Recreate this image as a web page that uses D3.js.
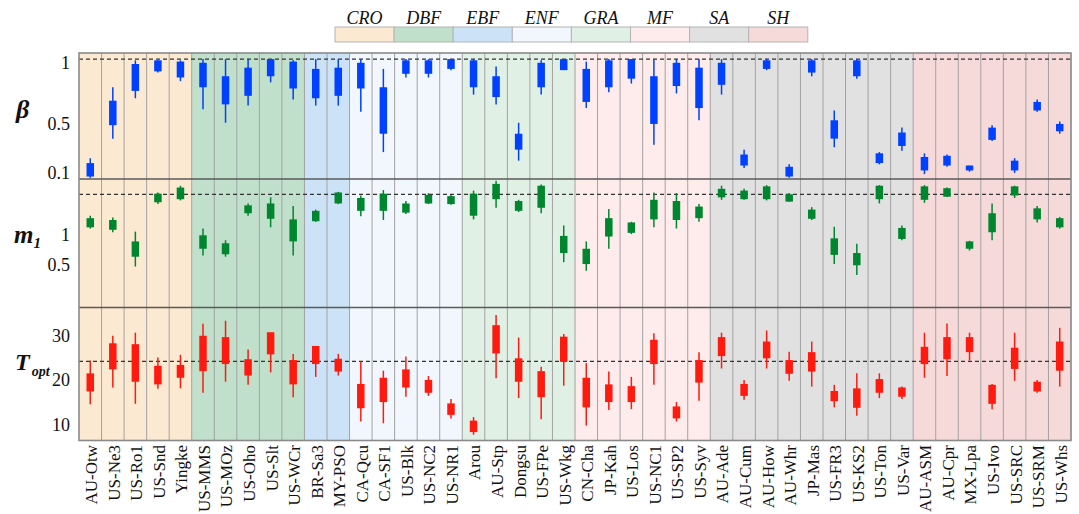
<!DOCTYPE html>
<html>
<head>
<meta charset="utf-8">
<script src="https://cdn.jsdelivr.net/npm/d3@7"></script>
<style>
  body { margin: 0; background: #fff; }
  svg { display: block; font-family: "Liberation Serif", "Times New Roman", serif; }
</style>
</head>
<body>
<svg id="chart" width="1079" height="514"></svg>
<script>
// Flux sites, grouped by plant functional type (PFT)
const stations = [
  "AU-Otw","US-Ne3","US-Ro1","US-Snd","Yingke",
  "US-MMS","US-MOz","US-Oho","US-Slt","US-WCr",
  "BR-Sa3","MY-PSO",
  "CA-Qcu","CA-SF1","US-Blk","US-NC2","US-NR1",
  "Arou","AU-Stp","Dongsu","US-FPe","US-Wkg",
  "CN-Cha","JP-Kah","US-Los","US-NC1","US-SP2","US-Syv",
  "AU-Ade","AU-Cum","AU-How","AU-Whr","JP-Mas","US-FR3","US-KS2","US-Ton","US-Var",
  "AU-ASM","AU-Cpr","MX-Lpa","US-Ivo","US-SRC","US-SRM","US-Whs"
];
const pftNames  = ["CRO","DBF","EBF","ENF","GRA","MF","SA","SH"];
const pftCounts = [5, 5, 2, 5, 5, 6, 9, 7];

// Per-site distribution: [min, q1, q3, max]
const betaStats = [
  [0.03,0.04,0.15,0.19],[0.35,0.46,0.66,0.77],[0.68,0.74,0.96,0.99],[0.89,0.90,0.99,0.99],[0.82,0.85,0.98,0.99],
  [0.59,0.77,0.97,1.00],[0.48,0.63,0.86,1.00],[0.62,0.70,0.93,1.00],[0.81,0.86,1.00,1.00],[0.67,0.76,0.98,0.99],
  [0.62,0.68,0.92,1.00],[0.62,0.70,0.93,1.00],
  [0.57,0.76,0.97,1.00],[0.24,0.39,0.77,0.92],[0.85,0.88,0.99,1.00],[0.85,0.88,0.99,1.00],[0.91,0.92,1.00,1.00],
  [0.71,0.77,0.99,1.00],[0.63,0.69,0.86,0.94],[0.17,0.26,0.39,0.48],[0.71,0.77,0.97,0.99],[0.91,0.91,1.00,1.00],
  [0.60,0.65,0.92,0.98],[0.73,0.77,0.99,1.00],[0.80,0.84,1.00,1.00],[0.30,0.47,0.86,1.00],[0.72,0.78,0.97,1.00],[0.50,0.60,0.93,1.00],
  [0.71,0.79,0.97,1.00],[0.11,0.13,0.22,0.26],[0.91,0.92,0.99,1.00],[0.03,0.04,0.12,0.14],[0.86,0.89,0.99,1.00],
  [0.28,0.35,0.50,0.58],[0.84,0.86,0.99,1.00],[0.14,0.15,0.23,0.24],[0.25,0.29,0.40,0.44],
  [0.06,0.09,0.20,0.23],[0.12,0.13,0.21,0.22],[0.08,0.09,0.13,0.13],[0.33,0.34,0.44,0.46],[0.07,0.09,0.17,0.19],
  [0.57,0.58,0.65,0.67],[0.39,0.41,0.47,0.49]
];
const m1Stats = [
  [1.04,1.06,1.21,1.25],[0.98,1.02,1.18,1.22],[0.42,0.58,0.83,0.99],[1.44,1.47,1.61,1.63],[1.50,1.52,1.71,1.74],
  [0.60,0.71,0.93,1.04],[0.58,0.62,0.80,0.85],[1.25,1.29,1.42,1.45],[1.06,1.20,1.45,1.55],[0.60,0.83,1.19,1.41],
  [1.15,1.16,1.33,1.35],[1.44,1.45,1.63,1.64],
  [1.24,1.33,1.54,1.58],[1.18,1.33,1.61,1.67],[1.28,1.30,1.45,1.49],[1.44,1.45,1.59,1.62],[1.43,1.44,1.57,1.59],
  [1.19,1.25,1.61,1.66],[1.38,1.52,1.77,1.82],[1.31,1.33,1.49,1.51],[1.29,1.38,1.74,1.76],[0.49,0.64,0.92,1.09],
  [0.35,0.46,0.71,0.83],[0.71,0.91,1.21,1.36],[0.95,0.97,1.14,1.15],[1.06,1.19,1.51,1.63],[1.04,1.18,1.49,1.62],[1.15,1.21,1.40,1.44],
  [1.51,1.55,1.69,1.74],[1.51,1.52,1.66,1.69],[1.50,1.52,1.73,1.75],[1.48,1.48,1.60,1.62],[1.18,1.20,1.35,1.39],
  [0.46,0.61,0.88,1.07],[0.28,0.44,0.64,0.79],[1.45,1.52,1.74,1.75],[0.85,0.87,1.05,1.09],
  [1.46,1.51,1.73,1.75],[1.56,1.56,1.70,1.71],[0.68,0.71,0.83,0.84],[0.85,0.98,1.29,1.45],[1.54,1.58,1.73,1.74],
  [1.14,1.19,1.37,1.41],[1.04,1.06,1.21,1.23]
];
const toptStats = [
  [13.8,16.7,20.8,23.7],[17.6,21.7,27.6,29.3],[13.9,18.9,27.4,30.0],[17.3,18.3,22.5,24.4],[17.4,19.8,22.7,25.0],
  [16.4,21.3,29.3,32.0],[18.9,22.9,29.0,32.7],[18.2,20.3,24.0,26.2],[21.0,25.1,30.1,30.1],[15.4,18.3,23.8,25.2],
  [20.0,22.9,27.0,27.0],[20.3,21.2,24.1,25.2],
  [9.9,12.9,18.4,23.4],[9.5,14.3,19.8,21.4],[15.5,17.6,21.7,24.6],[15.7,16.4,19.3,20.2],[10.6,11.4,14.0,15.0],
  [6.9,7.5,10.1,10.9],[19.7,25.3,31.7,34.0],[15.2,18.9,24.2,28.9],[10.4,15.4,21.3,22.3],[18.0,23.4,29.1,29.7],
  [9.0,13.1,19.8,23.1],[12.5,14.3,18.3,21.2],[12.7,14.3,17.9,20.0],[18.2,22.9,28.4,29.9],[9.9,10.6,13.3,14.3],[14.6,18.7,23.8,25.6],
  [21.9,24.7,29.0,30.0],[14.8,15.7,18.4,19.3],[21.9,24.2,28.0,30.5],[19.1,20.7,23.8,25.7],[17.8,21.2,25.6,28.0],
  [13.1,14.5,16.8,18.2],[11.2,13.0,17.4,20.8],[15.2,16.4,19.5,20.8],[15.0,15.5,17.6,17.8],
  [19.8,22.9,26.8,30.0],[20.2,24.0,29.0,32.1],[23.7,25.6,29.0,30.0],[12.7,13.9,18.2,18.4],[19.1,21.8,26.6,30.0],
  [16.4,16.7,18.9,19.3],[17.8,21.4,28.0,31.1]
];

const betaTicks = [0.1, 0.5, 1];
const m1Ticks   = [0.5, 1];
const toptTicks = [10, 20, 30];
const betaRef = 1, m1Ref = 1.6, toptRef = 23.5;

// ---- layout ----
const svg = d3.select("#chart");
const plotLeft = 79, plotRight = 1071;
const plotTop = 53, plotBottom = 440.5;
const pftOf = pftCounts.flatMap((n, i) => d3.range(n).map(() => pftNames[i]));

const x = d3.scaleBand().domain(stations).range([plotLeft, plotRight]).padding(0);
const pftColor = d3.scaleOrdinal().domain(pftNames)
  .range(["#fce9d1","#c0e0cb","#cce3f7","#f1f7fd","#e1f0e4","#fdeceb","#e1e1e1","#f6dada"]);

const panels = [
  { stats: betaStats, ticks: betaTicks, ref: betaRef, color: "#0040ff",
    y: d3.scaleLinear().domain([0.02, 1.05]).range([179, plotTop]) },
  { stats: m1Stats, ticks: m1Ticks, ref: m1Ref, color: "#00862f",
    y: d3.scaleLinear().domain([-0.25, 1.85]).range([307.5, 179]) },
  { stats: toptStats, ticks: toptTicks, ref: toptRef, color: "#ff1a10",
    y: d3.scaleLinear().domain([5.6, 35.7]).range([plotBottom, 307.5]) }
];

// PFT background columns
svg.append("g").selectAll("rect").data(stations).join("rect")
  .attr("x", d => x(d)).attr("y", plotTop)
  .attr("width", x.bandwidth() + 0.5).attr("height", plotBottom - plotTop)
  .attr("fill", (d, i) => pftColor(pftOf[i]));

// Column separators
svg.append("g").selectAll("line").data(stations.slice(1)).join("line")
  .attr("x1", d => x(d)).attr("x2", d => x(d))
  .attr("y1", plotTop).attr("y2", plotBottom)
  .attr("stroke", "#a2a2a2").attr("stroke-width", 1);

// Panels: reference line, whiskers, boxes, y axis
const boxW = 7.5;
panels.forEach(p => {
  const g = svg.append("g");
  g.append("line")
    .attr("x1", plotLeft).attr("x2", plotRight)
    .attr("y1", p.y(p.ref)).attr("y2", p.y(p.ref))
    .attr("stroke", "#333").attr("stroke-width", 1.2)
    .attr("stroke-dasharray", "4,3");

  const c = d => x(stations[d.i]) + x.bandwidth() / 2;
  const items = p.stats.map((s, i) => ({ i, s }));
  g.selectAll("line.wh").data(items).join("line").attr("class", "wh")
    .attr("x1", c).attr("x2", c)
    .attr("y1", d => p.y(d.s[3])).attr("y2", d => p.y(d.s[0]))
    .attr("stroke", p.color).attr("stroke-width", 1.5);
  g.selectAll("rect.bx").data(items).join("rect").attr("class", "bx")
    .attr("x", d => c(d) - boxW / 2).attr("width", boxW)
    .attr("y", d => p.y(d.s[2]))
    .attr("height", d => Math.max(1.5, p.y(d.s[1]) - p.y(d.s[2])))
    .attr("fill", p.color);

  const ax = g.append("g").attr("transform", `translate(${plotLeft},0)`)
    .call(d3.axisLeft(p.y).tickValues(p.ticks).tickSize(0).tickPadding(9)
      .tickFormat(d3.format("")));
  ax.select(".domain").remove();
  ax.attr("font-family", null);
  ax.selectAll("text").attr("font-size", 18).attr("fill", "#111")
    .attr("dy", "0.5em");
});

// Panel separators and frame
[179, 307.5].forEach(yy => {
  svg.append("line").attr("x1", plotLeft).attr("x2", plotRight).attr("y1", yy).attr("y2", yy)
    .attr("stroke", "#5a5a5a").attr("stroke-width", 1.3);
});
svg.append("rect").attr("x", plotLeft).attr("y", plotTop)
  .attr("width", plotRight - plotLeft).attr("height", plotBottom - plotTop)
  .attr("fill", "none").attr("stroke", "#8a8a8a").attr("stroke-width", 1.6);

// Axis titles
const titles = svg.append("g").attr("font-weight", "bold").attr("font-style", "italic").attr("fill", "#111");
titles.append("text").attr("x", 16).attr("y", 118).attr("font-size", 26).text("β");
const mt = titles.append("text").attr("x", 14).attr("y", 243).attr("font-size", 25);
mt.append("tspan").text("m");
mt.append("tspan").attr("font-size", 15).attr("dy", 5).text("1");
const tt = titles.append("text").attr("x", 15).attr("y", 370).attr("font-size", 24);
tt.append("tspan").text("T");
tt.append("tspan").attr("font-size", 14).attr("dy", 6).attr("dx", 2).text("opt");

// Site labels
svg.append("g").selectAll("text").data(stations).join("text")
  .attr("transform", d => `translate(${x(d) + x.bandwidth() / 2 + 1},445) rotate(-90)`)
  .attr("text-anchor", "end").attr("dy", "0.35em")
  .attr("font-size", 17).attr("fill", "#111")
  .text(d => d);

// Legend
const lgX = 335, lgW = 59.1, lgY = 27, lgH = 15;
const lg = svg.append("g");
lg.selectAll("rect").data(pftNames).join("rect")
  .attr("x", (d, i) => lgX + i * lgW).attr("y", lgY)
  .attr("width", lgW).attr("height", lgH)
  .attr("fill", d => pftColor(d)).attr("stroke", "#b4b4b4").attr("stroke-width", 1);
lg.selectAll("text").data(pftNames).join("text")
  .attr("x", (d, i) => lgX + i * lgW + lgW / 2).attr("y", 24)
  .attr("text-anchor", "middle").attr("font-style", "italic")
  .attr("font-size", 18).attr("fill", "#111")
  .text(d => d);
</script>
</body>
</html>
